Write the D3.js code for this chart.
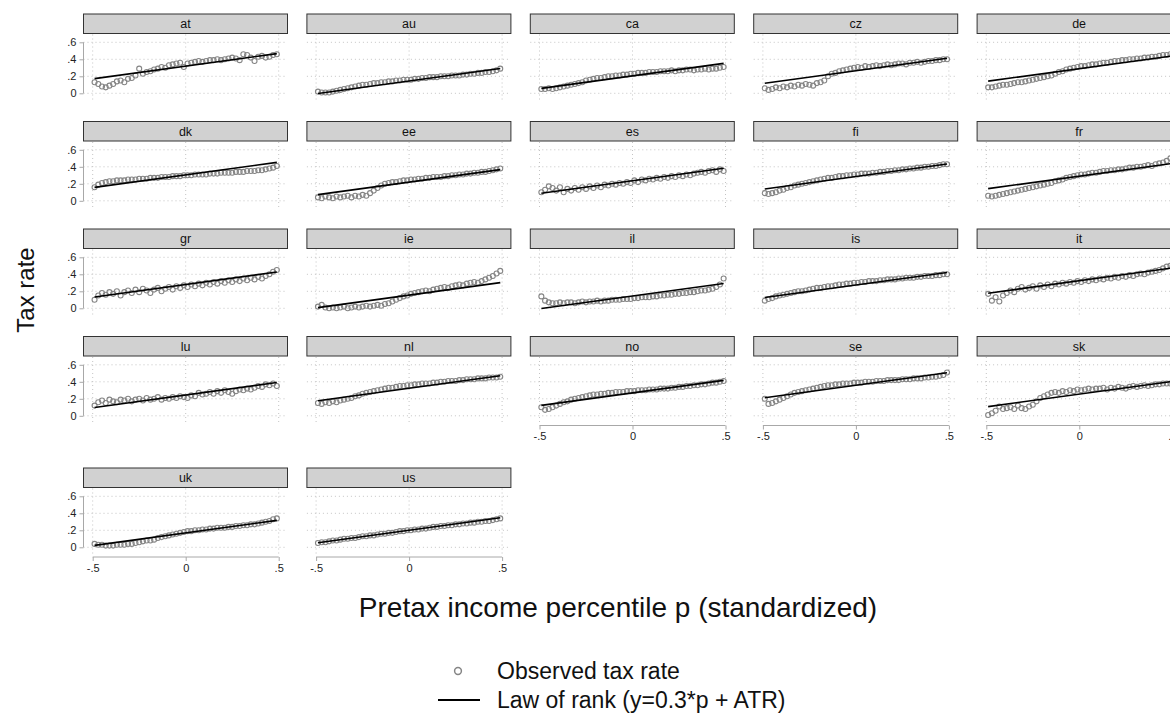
<!DOCTYPE html>
<html>
<head>
<meta charset="utf-8">
<script src="https://cdn.jsdelivr.net/npm/d3@7"></script>
<style>
  html, body { margin: 0; padding: 0; background: #fff; }
  svg { display: block; font-family: "Liberation Sans", Arial, Helvetica, sans-serif; }
</style>
</head>
<body>
<svg id="chart" width="1170" height="717"></svg>
<script>
// ---------------- DATA ----------------
const countries = ["at","au","ca","cz","de","dk","ee","es","fi","fr","gr","ie","il","is","it","lu","nl","no","se","sk","uk","us"];

// standardized percentile positions of the observed points
const pGrid = [-0.49,-0.47,-0.45,-0.43,-0.41,-0.39,-0.37,-0.35,-0.33,-0.31,
               -0.29,-0.27,-0.25,-0.23,-0.21,-0.19,-0.17,-0.15,-0.13,-0.11,
               -0.09,-0.07,-0.05,-0.03,-0.01,0.01,0.03,0.05,0.07,0.09,
               0.11,0.13,0.15,0.17,0.19,0.21,0.23,0.25,0.27,0.29,
               0.31,0.33,0.35,0.37,0.39,0.41,0.43,0.45,0.47,0.49];

// average tax rate (ATR) for the law-of-rank line, per country (same order as countries)
const atr = [0.32,0.145,0.205,0.265,0.29,0.305,0.22,0.235,0.285,0.29,0.28,0.155,0.145,0.275,0.325,0.245,0.325,0.27,0.36,0.255,0.17,0.2];
const lawSlope = 0.3;
const lawRange = [-0.49, 0.49];

// observed tax rates
const obs_at = [0.13,0.11,0.08,0.07,0.09,0.11,0.14,0.15,0.13,0.17,0.18,0.21,0.29,0.23,0.25,0.26,0.28,0.29,0.31,0.30,0.33,0.34,0.35,0.36,0.31,0.35,0.36,0.37,0.38,0.37,0.38,0.39,0.39,0.40,0.39,0.40,0.41,0.42,0.41,0.39,0.46,0.45,0.42,0.38,0.43,0.44,0.42,0.43,0.45,0.46];
const obs_au = [0.02,0.01,0.01,0.01,0.02,0.03,0.04,0.05,0.06,0.07,0.08,0.09,0.10,0.10,0.11,0.12,0.12,0.13,0.13,0.14,0.14,0.15,0.15,0.16,0.16,0.16,0.17,0.17,0.18,0.18,0.19,0.19,0.19,0.20,0.20,0.20,0.21,0.21,0.21,0.22,0.22,0.23,0.23,0.24,0.24,0.25,0.25,0.26,0.27,0.29];
const obs_ca = [0.05,0.05,0.06,0.05,0.06,0.07,0.08,0.09,0.10,0.11,0.12,0.13,0.15,0.16,0.17,0.18,0.18,0.19,0.20,0.20,0.21,0.21,0.22,0.22,0.23,0.23,0.24,0.24,0.24,0.25,0.25,0.25,0.26,0.26,0.26,0.27,0.26,0.27,0.27,0.28,0.28,0.27,0.28,0.28,0.29,0.28,0.29,0.29,0.30,0.31];
const obs_cz = [0.06,0.04,0.05,0.07,0.06,0.08,0.07,0.09,0.08,0.10,0.09,0.11,0.10,0.09,0.12,0.13,0.15,0.20,0.23,0.24,0.26,0.27,0.28,0.29,0.30,0.31,0.30,0.32,0.31,0.32,0.33,0.32,0.33,0.34,0.33,0.34,0.35,0.35,0.34,0.36,0.36,0.37,0.36,0.37,0.38,0.38,0.39,0.39,0.40,0.40];
const obs_de = [0.07,0.07,0.08,0.09,0.10,0.10,0.11,0.12,0.13,0.13,0.14,0.15,0.16,0.17,0.18,0.19,0.20,0.21,0.23,0.25,0.26,0.28,0.29,0.30,0.31,0.32,0.32,0.33,0.34,0.34,0.35,0.36,0.36,0.37,0.38,0.38,0.39,0.39,0.40,0.40,0.41,0.41,0.42,0.42,0.43,0.43,0.44,0.45,0.45,0.46];
const obs_dk = [0.16,0.19,0.21,0.22,0.23,0.23,0.24,0.24,0.24,0.25,0.25,0.25,0.26,0.26,0.26,0.27,0.27,0.27,0.28,0.28,0.28,0.29,0.29,0.29,0.30,0.30,0.30,0.31,0.31,0.31,0.31,0.32,0.32,0.32,0.33,0.33,0.33,0.33,0.34,0.34,0.34,0.35,0.35,0.35,0.36,0.36,0.37,0.38,0.39,0.41];
const obs_ee = [0.04,0.03,0.05,0.04,0.03,0.05,0.04,0.05,0.06,0.04,0.06,0.05,0.07,0.06,0.09,0.12,0.15,0.18,0.20,0.21,0.22,0.22,0.23,0.24,0.24,0.25,0.25,0.26,0.26,0.27,0.27,0.28,0.28,0.28,0.29,0.29,0.30,0.30,0.31,0.31,0.32,0.32,0.33,0.33,0.34,0.34,0.35,0.36,0.37,0.38];
const obs_es = [0.10,0.13,0.17,0.15,0.12,0.16,0.10,0.14,0.12,0.15,0.13,0.16,0.14,0.17,0.15,0.18,0.16,0.19,0.18,0.20,0.19,0.21,0.20,0.22,0.21,0.24,0.22,0.25,0.24,0.26,0.25,0.27,0.26,0.28,0.27,0.29,0.28,0.30,0.29,0.31,0.30,0.32,0.33,0.34,0.33,0.35,0.36,0.34,0.37,0.35];
const obs_fi = [0.09,0.08,0.09,0.10,0.12,0.13,0.15,0.16,0.18,0.19,0.20,0.21,0.22,0.23,0.24,0.25,0.26,0.27,0.27,0.28,0.29,0.29,0.30,0.30,0.31,0.31,0.32,0.32,0.32,0.33,0.33,0.34,0.34,0.35,0.35,0.36,0.36,0.37,0.37,0.38,0.38,0.39,0.39,0.40,0.40,0.41,0.41,0.42,0.43,0.43];
const obs_fr = [0.06,0.05,0.06,0.07,0.08,0.09,0.10,0.11,0.12,0.13,0.14,0.15,0.16,0.17,0.18,0.19,0.20,0.21,0.23,0.24,0.25,0.27,0.28,0.29,0.30,0.31,0.31,0.32,0.33,0.33,0.34,0.35,0.35,0.36,0.36,0.37,0.37,0.38,0.39,0.39,0.40,0.40,0.41,0.42,0.41,0.43,0.44,0.45,0.47,0.50];
const obs_gr = [0.10,0.15,0.18,0.16,0.19,0.17,0.20,0.15,0.19,0.21,0.18,0.22,0.19,0.23,0.21,0.18,0.22,0.24,0.20,0.23,0.25,0.22,0.26,0.24,0.27,0.25,0.28,0.26,0.29,0.27,0.30,0.28,0.31,0.29,0.32,0.30,0.33,0.31,0.34,0.32,0.35,0.33,0.36,0.34,0.37,0.35,0.38,0.40,0.43,0.45];
const obs_ie = [0.02,0.04,0.01,0.00,0.01,0.00,0.01,0.02,0.00,0.01,0.02,0.01,0.02,0.03,0.02,0.03,0.04,0.03,0.05,0.06,0.08,0.10,0.12,0.14,0.15,0.17,0.18,0.19,0.20,0.21,0.20,0.22,0.23,0.24,0.25,0.24,0.26,0.27,0.28,0.27,0.29,0.30,0.31,0.30,0.32,0.34,0.36,0.38,0.41,0.44];
const obs_il = [0.14,0.09,0.07,0.06,0.06,0.07,0.06,0.07,0.07,0.06,0.07,0.08,0.07,0.08,0.08,0.09,0.08,0.09,0.09,0.10,0.10,0.10,0.11,0.11,0.11,0.12,0.12,0.13,0.13,0.13,0.14,0.14,0.15,0.15,0.16,0.16,0.17,0.17,0.18,0.18,0.19,0.19,0.20,0.21,0.21,0.22,0.23,0.25,0.28,0.35];
const obs_is = [0.09,0.11,0.12,0.14,0.15,0.16,0.17,0.18,0.19,0.20,0.20,0.21,0.22,0.23,0.24,0.24,0.25,0.26,0.26,0.27,0.28,0.28,0.29,0.29,0.30,0.30,0.31,0.31,0.32,0.32,0.32,0.33,0.33,0.34,0.34,0.34,0.35,0.35,0.36,0.36,0.36,0.37,0.37,0.38,0.38,0.38,0.39,0.39,0.40,0.40];
const obs_it = [0.17,0.09,0.13,0.08,0.15,0.18,0.21,0.19,0.23,0.25,0.22,0.24,0.26,0.23,0.27,0.25,0.28,0.26,0.29,0.28,0.30,0.29,0.31,0.30,0.32,0.31,0.33,0.32,0.34,0.33,0.35,0.34,0.36,0.35,0.37,0.36,0.38,0.37,0.39,0.38,0.40,0.41,0.40,0.42,0.43,0.44,0.45,0.47,0.49,0.50];
const obs_lu = [0.12,0.16,0.18,0.15,0.19,0.17,0.16,0.19,0.18,0.20,0.17,0.19,0.20,0.18,0.21,0.19,0.20,0.22,0.19,0.21,0.20,0.22,0.21,0.23,0.22,0.21,0.24,0.23,0.27,0.25,0.26,0.28,0.26,0.29,0.27,0.30,0.28,0.26,0.29,0.31,0.30,0.32,0.31,0.33,0.35,0.34,0.37,0.36,0.38,0.35];
const obs_nl = [0.15,0.14,0.16,0.15,0.17,0.16,0.18,0.19,0.20,0.21,0.23,0.24,0.26,0.27,0.28,0.29,0.30,0.31,0.32,0.33,0.33,0.34,0.35,0.35,0.36,0.36,0.37,0.37,0.38,0.38,0.38,0.39,0.39,0.40,0.40,0.41,0.41,0.41,0.42,0.42,0.43,0.43,0.43,0.44,0.44,0.44,0.45,0.45,0.45,0.46];
const obs_no = [0.10,0.07,0.08,0.10,0.12,0.14,0.16,0.17,0.19,0.20,0.21,0.22,0.23,0.24,0.25,0.25,0.26,0.26,0.27,0.27,0.28,0.28,0.28,0.29,0.29,0.29,0.30,0.30,0.30,0.31,0.31,0.31,0.32,0.32,0.32,0.33,0.33,0.34,0.34,0.35,0.35,0.36,0.36,0.37,0.37,0.38,0.39,0.39,0.40,0.41];
const obs_se = [0.20,0.14,0.15,0.17,0.19,0.21,0.23,0.25,0.27,0.28,0.29,0.30,0.31,0.32,0.33,0.34,0.35,0.36,0.36,0.37,0.37,0.38,0.38,0.38,0.39,0.39,0.39,0.40,0.40,0.40,0.41,0.41,0.41,0.42,0.42,0.42,0.42,0.43,0.43,0.43,0.44,0.44,0.44,0.45,0.45,0.46,0.46,0.47,0.48,0.51];
const obs_sk = [0.01,0.03,0.06,0.11,0.08,0.09,0.10,0.08,0.12,0.09,0.08,0.11,0.13,0.17,0.21,0.23,0.25,0.27,0.28,0.27,0.29,0.28,0.30,0.29,0.31,0.30,0.31,0.32,0.31,0.32,0.32,0.33,0.31,0.33,0.32,0.34,0.33,0.32,0.34,0.35,0.34,0.35,0.36,0.35,0.36,0.37,0.37,0.38,0.38,0.38];
const obs_uk = [0.04,0.03,0.03,0.02,0.02,0.02,0.03,0.03,0.03,0.04,0.04,0.05,0.06,0.07,0.08,0.08,0.09,0.11,0.12,0.13,0.14,0.15,0.16,0.17,0.18,0.19,0.19,0.20,0.20,0.21,0.21,0.22,0.22,0.23,0.23,0.23,0.24,0.24,0.25,0.25,0.26,0.26,0.27,0.27,0.28,0.29,0.30,0.31,0.33,0.34];
const obs_us = [0.05,0.06,0.06,0.07,0.08,0.08,0.09,0.10,0.10,0.11,0.11,0.12,0.13,0.13,0.14,0.14,0.15,0.16,0.16,0.17,0.17,0.18,0.19,0.19,0.20,0.20,0.21,0.21,0.22,0.22,0.23,0.24,0.24,0.25,0.25,0.26,0.26,0.27,0.27,0.28,0.28,0.29,0.29,0.30,0.30,0.31,0.31,0.32,0.33,0.34];

const observed = {at:obs_at,au:obs_au,ca:obs_ca,cz:obs_cz,de:obs_de,dk:obs_dk,ee:obs_ee,es:obs_es,fi:obs_fi,fr:obs_fr,
  gr:obs_gr,ie:obs_ie,il:obs_il,is:obs_is,it:obs_it,lu:obs_lu,nl:obs_nl,no:obs_no,se:obs_se,sk:obs_sk,uk:obs_uk,us:obs_us};

const yTicks = [0, 0.2, 0.4, 0.6];
const yTickLabels = ["0", ".2", ".4", ".6"];
const xTicks = [-0.5, 0, 0.5];
const xTickLabels = ["-.5", "0", ".5"];

const yTitle = "Tax rate";
const xTitle = "Pretax income percentile p (standardized)";
const legendLabels = ["Observed tax rate", "Law of rank (y=0.3*p + ATR)"];

// ---------------- LAYOUT ----------------
const svg = d3.select("#chart");
const nCols = 5;
const colLeft0 = 83.5, colStep = 223.4, panelW = 204;
const stripTops = [14, 121.5, 229, 336.5, 468];
const stripH = 19.5;
const zeroOffset = 79.3;   // from strip top to y=0
const pxPerUnit = 85;
const plotBottomOffset = 87; // from strip top to bottom of gridded region

const gridColor = "#c4c4c4";
const axisColor = "#a8a8a8";
const circleColor = "#858585";

countries.forEach((c, idx) => {
  const row = Math.floor(idx / nCols), col = idx % nCols;
  const left = colLeft0 + col * colStep;
  const top = stripTops[row];
  const x = d3.scaleLinear().domain([-0.5, 0.5]).range([left + 9.2, left + 195.2]);
  const y0 = top + zeroOffset;
  const y = d3.scaleLinear().domain([0, 0.6]).range([y0, y0 - 0.6 * pxPerUnit]);
  const plotTop = top + stripH + 1;
  const plotBot = top + plotBottomOffset;

  const g = svg.append("g");

  // gridlines
  g.selectAll(".hg").data(yTicks).join("line")
    .attr("x1", left).attr("x2", left + panelW)
    .attr("y1", d => y(d)).attr("y2", d => y(d))
    .attr("stroke", gridColor).attr("stroke-width", 1).attr("stroke-dasharray", "1,3");
  g.selectAll(".vg").data(xTicks).join("line")
    .attr("x1", d => x(d)).attr("x2", d => x(d))
    .attr("y1", plotTop).attr("y2", plotBot)
    .attr("stroke", gridColor).attr("stroke-width", 1).attr("stroke-dasharray", "1,3");

  // strip
  g.append("rect").attr("x", left).attr("y", top).attr("width", panelW).attr("height", stripH)
    .attr("fill", "#d1d1d1").attr("stroke", "#333").attr("stroke-width", 1);
  g.append("text").attr("x", left + panelW / 2).attr("y", top + stripH / 2 + 4.5)
    .attr("text-anchor", "middle").attr("font-size", 12.5).attr("fill", "#111").text(c);

  // y axis on first column
  if (col === 0) {
    const ax = g.append("g").attr("transform", `translate(${left},0)`)
      .call(d3.axisLeft(y).tickValues(yTicks).tickFormat((d, i) => yTickLabels[i]).tickSize(4).tickPadding(3));
    ax.select(".domain").attr("stroke", axisColor).attr("d", `M0,${y(0)}V${y(0.6)}`);
    ax.selectAll(".tick line").attr("stroke", axisColor);
    ax.selectAll(".tick text").attr("font-size", 11).attr("fill", "#222").attr("font-family", "Liberation Sans, Arial, sans-serif");
  }

  // x axis on bottom panel of each column
  const below = idx + nCols;
  if (below >= countries.length) {
    const axY = plotBot + 2;
    const ax = g.append("g").attr("transform", `translate(0,${axY})`)
      .call(d3.axisBottom(x).tickValues(xTicks).tickFormat((d, i) => xTickLabels[i]).tickSize(4).tickPadding(3));
    ax.select(".domain").attr("stroke", axisColor).attr("d", `M${x(-0.5)},0H${x(0.5)}`);
    ax.selectAll(".tick line").attr("stroke", axisColor);
    ax.selectAll(".tick text").attr("font-size", 11).attr("fill", "#222").attr("font-family", "Liberation Sans, Arial, sans-serif");
  }

  // observed points
  const vals = observed[c];
  g.selectAll("circle.obs").data(vals).join("circle")
    .attr("cx", (d, i) => x(pGrid[i])).attr("cy", d => y(d)).attr("r", 2.5)
    .attr("fill", "none").attr("stroke", circleColor).attr("stroke-width", 1.1);

  // law of rank line
  const lawPts = lawRange.map(p => [p, lawSlope * p + atr[idx]]);
  g.append("path").datum(lawPts)
    .attr("d", d3.line().x(d => x(d[0])).y(d => y(d[1])))
    .attr("fill", "none").attr("stroke", "#000").attr("stroke-width", 1.6);
});

// axis titles
svg.append("text").attr("transform", "translate(34,290) rotate(-90)")
  .attr("text-anchor", "middle").attr("font-size", 24).attr("fill", "#111").text(yTitle);
svg.append("text").attr("x", 618).attr("y", 617)
  .attr("text-anchor", "middle").attr("font-size", 28).attr("fill", "#111").text(xTitle);

// legend
svg.append("circle").attr("cx", 458).attr("cy", 671).attr("r", 3.4)
  .attr("fill", "none").attr("stroke", circleColor).attr("stroke-width", 1.5);
svg.append("text").attr("x", 497).attr("y", 679).attr("font-size", 23).attr("fill", "#111").text(legendLabels[0]);
svg.append("line").attr("x1", 438).attr("x2", 480).attr("y1", 700).attr("y2", 700)
  .attr("stroke", "#000").attr("stroke-width", 2.2);
svg.append("text").attr("x", 497).attr("y", 708).attr("font-size", 23).attr("fill", "#111").text(legendLabels[1]);
</script>
</body>
</html>
